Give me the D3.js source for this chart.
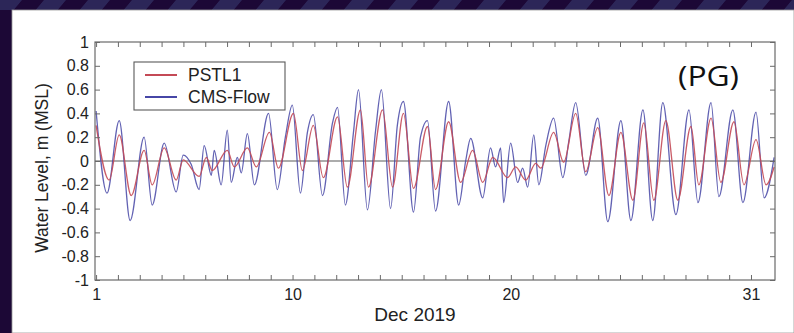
<!DOCTYPE html>
<html>
<head>
<meta charset="utf-8">
<script src="https://cdn.jsdelivr.net/npm/d3@7"></script>
<style>
  html, body { margin: 0; padding: 0; background: #1c0836; }
  svg { display: block; }
</style>
</head>
<body>
<svg id="chart" width="794" height="333"></svg>
<script>
// ---- Data (day of Dec 2019, water level in m MSL) ----
const pstlDays = [1.0,1.6,2.06,2.61,3.2,3.57,4.12,4.67,4.99,5.72,6.05,6.32,7.01,7.33,7.93,8.34,8.94,9.35,10.04,10.45,10.95,11.41,12.06,12.51,13.11,13.48,14.12,14.58,15.08,15.54,16.18,16.55,17.15,17.7,18.25,18.71,19.17,19.85,20.22,20.68,21.14,21.37,21.96,22.42,22.97,23.43,23.98,24.49,25.04,25.59,26.09,26.55,27.1,27.65,28.25,28.61,29.17,29.62,30.22,30.68,31.23,31.69,32.06];
const pstlLevel = [0.30,-0.16,0.22,-0.29,0.09,-0.20,0.11,-0.16,0.01,-0.13,0.03,-0.08,0.09,-0.05,0.11,-0.05,0.24,-0.06,0.40,-0.08,0.30,-0.14,0.37,-0.22,0.43,-0.22,0.43,-0.22,0.40,-0.23,0.29,-0.24,0.33,-0.18,0.09,-0.18,0.03,-0.14,-0.05,-0.16,-0.02,-0.06,0.24,-0.01,0.40,-0.09,0.28,-0.29,0.24,-0.33,0.32,-0.33,0.34,-0.33,0.29,-0.20,0.36,-0.18,0.33,-0.20,0.18,-0.20,-0.05];

const cmsDays = [1.0,1.5,2.06,2.56,3.2,3.57,4.12,4.67,4.99,5.36,5.72,5.95,6.28,6.41,6.73,7.01,7.19,7.47,7.65,7.93,8.25,8.9,9.3,9.67,9.99,10.36,10.68,10.95,11.37,11.83,12.06,12.42,12.79,13.02,13.43,13.8,14.07,14.49,14.8,15.08,15.54,15.86,16.18,16.55,17.15,17.61,17.93,18.16,18.71,19.07,19.3,19.53,19.67,19.99,20.31,20.54,20.77,21.05,21.28,21.6,21.96,22.38,22.65,22.97,23.43,23.98,24.44,25.04,25.5,26.05,26.5,26.96,27.56,28.16,28.57,29.17,29.53,30.17,30.63,31.23,31.6,32.06];
const cmsLevel = [0.42,-0.27,0.34,-0.50,0.20,-0.37,0.15,-0.26,0.05,-0.03,-0.24,0.13,-0.12,0.09,-0.20,0.26,-0.18,0.03,-0.10,0.23,-0.20,0.40,-0.24,0.20,0.47,-0.27,0.24,0.39,-0.29,0.32,0.45,-0.37,0.24,0.60,-0.41,0.25,0.60,-0.40,0.30,0.50,-0.43,0.20,0.34,-0.42,0.50,-0.37,0.00,0.19,-0.31,0.11,-0.05,0.11,-0.35,0.15,-0.18,-0.06,-0.22,0.22,-0.20,0.13,0.36,-0.14,0.16,0.49,-0.12,0.36,-0.51,0.34,-0.50,0.43,-0.50,0.49,-0.45,0.43,-0.35,0.49,-0.30,0.43,-0.35,0.41,-0.31,0.03];

const seriesNames = ["PSTL1", "CMS-Flow"];
const seriesColors = ["#c44a56", "#4646a6"];
const yTicks = [-1,-0.8,-0.6,-0.4,-0.2,0,0.2,0.4,0.6,0.8,1];
const xTickDays = d3.range(1, 32);
const xTickLabels = [1, 10, 20, 31];
const xAxisTitle = "Dec 2019";
const yAxisTitle = "Water Level, m (MSL)";
const panelTag = "(PG)";

// ---- Layout ----
const svg = d3.select("#chart");
const W = 794, H = 333;
const plot = { left: 95, right: 775, top: 42, bottom: 280 };

// background with striped top band
const defs = svg.append("defs");
const pat = defs.append("pattern").attr("id", "stripes")
  .attr("patternUnits", "userSpaceOnUse").attr("width", 44).attr("height", 10)
  .attr("patternTransform", "skewX(-40)");
pat.append("rect").attr("width", 44).attr("height", 10).attr("fill", "#1c0836");
pat.append("rect").attr("x", 0).attr("width", 22).attr("height", 10).attr("fill", "#2c2658");

svg.append("rect").attr("width", W).attr("height", H).attr("fill", "#1c0836");
svg.append("rect").attr("x", 0).attr("y", 0).attr("width", W).attr("height", 10).attr("fill", "url(#stripes)");
svg.append("rect").attr("x", 12).attr("y", 10).attr("width", W - 12).attr("height", H - 10)
  .attr("fill", "#ffffff").attr("stroke", "#9a9a9a").attr("stroke-width", 0.8);

const x = d3.scaleLinear().domain([0.95, 32.1]).range([plot.left, plot.right]);
const y = d3.scaleLinear().domain([-1, 1]).range([plot.bottom, plot.top]);

const axisColor = "#6a6a6a";
const tickFont = "'Liberation Sans', Arial, sans-serif";

// zero line
svg.append("line")
  .attr("x1", plot.left).attr("x2", plot.right)
  .attr("y1", y(0)).attr("y2", y(0))
  .attr("stroke", "#5a5a5a").attr("stroke-width", 1.2);

// series
const line = d3.line().x(d => x(d[0])).y(d => y(d[1])).curve(d3.curveMonotoneX);
const pstl = pstlDays.map((d, i) => [d, pstlLevel[i]]);
const cms = cmsDays.map((d, i) => [d, cmsLevel[i]]);

svg.append("path").datum(cms).attr("d", line)
  .attr("fill", "none").attr("stroke", seriesColors[1]).attr("stroke-width", 1.3).attr("opacity", 0.85);
svg.append("path").datum(pstl).attr("d", line)
  .attr("fill", "none").attr("stroke", seriesColors[0]).attr("stroke-width", 1.3).attr("opacity", 0.9);

// axes
function styleAxis(g) {
  g.select(".domain").remove();
  g.selectAll(".tick line").attr("stroke", axisColor).attr("stroke-width", 1);
  g.selectAll(".tick text").attr("fill", "#222").style("font-family", tickFont).style("font-size", "16px");
}

svg.append("g").attr("transform", `translate(0,${plot.bottom})`)
  .call(d3.axisBottom(x).tickValues(xTickDays).tickSize(-5).tickPadding(9)
    .tickFormat(d => xTickLabels.includes(d) ? String(d) : ""))
  .call(styleAxis);

svg.append("g").attr("transform", `translate(0,${plot.top})`)
  .call(d3.axisTop(x).tickValues(xTickDays).tickSize(-5).tickFormat(""))
  .call(styleAxis);

svg.append("g").attr("transform", `translate(${plot.left},0)`)
  .call(d3.axisLeft(y).tickValues(yTicks).tickSize(-5).tickPadding(6)
    .tickFormat(d => String(+d.toFixed(1))))
  .call(styleAxis);

svg.append("g").attr("transform", `translate(${plot.right},0)`)
  .call(d3.axisRight(y).tickValues(yTicks).tickSize(-5).tickFormat(""))
  .call(styleAxis);

// frame
svg.append("rect")
  .attr("x", plot.left).attr("y", plot.top)
  .attr("width", plot.right - plot.left).attr("height", plot.bottom - plot.top)
  .attr("fill", "none").attr("stroke", axisColor).attr("stroke-width", 1.2);

// axis titles
svg.append("text").attr("x", 415).attr("y", 321).attr("text-anchor", "middle")
  .style("font-family", tickFont).style("font-size", "19px").attr("fill", "#222")
  .text(xAxisTitle);

svg.append("text").attr("transform", "translate(48,168) rotate(-90)").attr("text-anchor", "middle")
  .style("font-family", tickFont).style("font-size", "17.5px").attr("fill", "#222")
  .text(yAxisTitle);

// legend
const lg = svg.append("g");
lg.append("rect").attr("x", 134).attr("y", 62).attr("width", 151).attr("height", 48)
  .attr("fill", "#fff").attr("stroke", "#5a5a5a").attr("stroke-width", 1.1);
seriesNames.forEach((name, i) => {
  const yy = 75 + i * 22;
  lg.append("line").attr("x1", 145).attr("x2", 177).attr("y1", yy).attr("y2", yy)
    .attr("stroke", seriesColors[i]).attr("stroke-width", 2);
  lg.append("text").attr("x", 188).attr("y", yy + 6)
    .style("font-family", tickFont).style("font-size", "17.5px").attr("fill", "#222")
    .text(name);
});

// panel tag
svg.append("text").attr("x", 678).attr("y", 86)
  .attr("textLength", 61).attr("lengthAdjust", "spacingAndGlyphs")
  .style("font-family", "'Open Sans', 'Noto Sans', sans-serif").style("font-weight", "400")
  .style("font-size", "28px").attr("fill", "#111")
  .text(panelTag);
</script>
</body>
</html>
